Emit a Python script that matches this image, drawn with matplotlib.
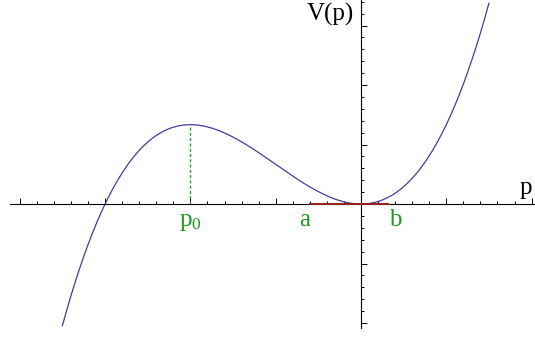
import numpy as np
import matplotlib
matplotlib.use('Agg')
import matplotlib.pyplot as plt
from matplotlib.ticker import FixedLocator, NullFormatter

# potential V(p) = p^3/3 + p^2, drawn on [-3.5, 1.5]
p_min, p_max = -3.5, 1.5
p0 = -2.0
a_val, b_val = -0.6, 0.32

x_major = [-4, -3, -2, -1, 0, 1, 2]
y_major = [-2, -1, 0, 1, 2, 3]

plt.rcParams['mathtext.fontset'] = 'custom'
plt.rcParams['mathtext.rm'] = 'Liberation Serif'
plt.rcParams['mathtext.it'] = 'Liberation Serif'

def V(p):
    return p**3 / 3 + p**2

fig = plt.figure(figsize=(5.35, 3.37), dpi=100)
ax = fig.add_axes([0, 0, 1, 1])

p = np.linspace(p_min, p_max, 400)
ax.plot(p, V(p), color='#3f3f9c', lw=0.9)

# dashed line at p0 and the a-b segment
ax.plot([p0, p0], [0, V(p0)], color='#2aa02a', lw=1.0, ls=(0, (2.2, 1.6)))
ax.plot([a_val, b_val], [0, 0], color='#9c1e1e', lw=1.4, zorder=5)

ax.set_xlim(-4.232, 2.04)
ax.set_ylim(-2.235, 3.429)

for s in ['top', 'right']:
    ax.spines[s].set_visible(False)
ax.spines['left'].set_position(('data', 0))
ax.spines['bottom'].set_position(('data', 0))
ax.spines['bottom'].set_bounds(-4.12, 2.04)
ax.spines['left'].set_bounds(-2.08, 3.43)
ax.spines['left'].set_linewidth(0.8)
ax.spines['bottom'].set_linewidth(0.8)

x_minor = np.round(np.arange(-4.0, 2.01, 0.2), 2)
y_minor = np.round(np.arange(-2.0, 3.41, 0.2), 2)
ax.xaxis.set_major_locator(FixedLocator(x_major))
ax.xaxis.set_minor_locator(FixedLocator(x_minor))
ax.yaxis.set_major_locator(FixedLocator(y_major))
ax.yaxis.set_minor_locator(FixedLocator(y_minor))
ax.xaxis.set_major_formatter(NullFormatter())
ax.yaxis.set_major_formatter(NullFormatter())
ax.tick_params(which='major', direction='in', length=4.5, width=0.7)
ax.tick_params(which='minor', direction='in', length=2.5, width=0.7)
ax.patch.set_alpha(0)

serif = 'Liberation Serif'
green = '#1e9a1e'
ax.text(-0.08, 3.076, 'V(p)', fontsize=18, family=serif, ha='right', va='baseline')
ax.text(1.86, 0.168, 'p', fontsize=18, family=serif, ha='left', va='baseline')
ax.text(p0, -0.37, r'$\mathrm{p}_0$', fontsize=18, color=green, ha='center', va='baseline')
ax.text(-0.656, -0.37, 'a', fontsize=18, family=serif, color=green, ha='center', va='baseline')
ax.text(0.40, -0.37, 'b', fontsize=18, family=serif, color=green, ha='center', va='baseline')

fig.savefig('out.png', dpi=100)
